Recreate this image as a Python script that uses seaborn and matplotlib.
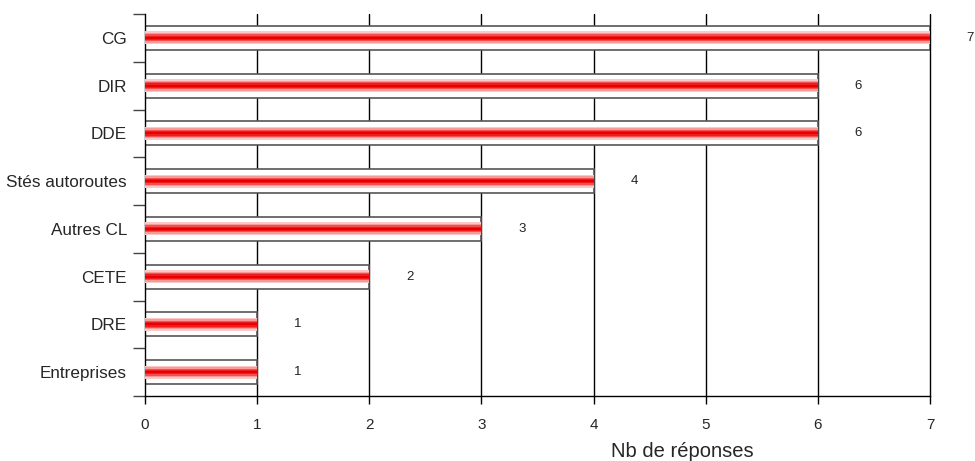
import matplotlib
matplotlib.use("Agg")
import matplotlib.pyplot as plt
import numpy as np
import pandas as pd
import seaborn as sns

categories = ["CG", "DIR", "DDE", "Stés autoroutes", "Autres CL", "CETE", "DRE", "Entreprises"]
responses = [7, 6, 6, 4, 3, 2, 1, 1]
x_ticks = [0, 1, 2, 3, 4, 5, 6, 7]

df = pd.DataFrame({"categorie": categories, "reponses": responses})

sns.set_theme(style="white")
plt.rcParams["font.family"] = ["Liberation Sans", "DejaVu Sans"]

fig = plt.figure(figsize=(9.75, 4.61), dpi=100)
ax = fig.add_axes([0.1487, 0.141, 0.8051, 0.8286])

# white bars with dark outline
sns.barplot(data=df, x="reponses", y="categorie", orient="h", color="white",
            edgecolor="#555555", linewidth=1.2, width=0.5, saturation=1, ax=ax, zorder=2)

# red gradient stripe built from stacked layers
layers = [(0.27, "#fbc8c8"), (0.21, "#f79a9a"), (0.15, "#f25050"), (0.09, "#ee1c1c"), (0.04, "#e60000")]
for h, c in layers:
    sns.barplot(data=df, x="reponses", y="categorie", orient="h", color=c,
                linewidth=0, width=h, saturation=1, ax=ax, zorder=3)

# value labels
for i, v in enumerate(responses):
    ax.text(v + 0.36, i, str(v), va="center", ha="center", fontsize=9.5, color="#222222")

ax.set_xlim(0, 7)
ax.set_ylim(len(categories) - 0.5, -0.5)
ax.set_xticks(x_ticks)
ax.set_xticklabels([str(t) for t in x_ticks], fontsize=11)
for t in x_ticks[1:]:
    ax.axvline(t, color="black", lw=1, zorder=1, clip_on=False)

ax.set_yticks(range(len(categories)))
ax.set_yticklabels(categories, fontsize=12.3)
ax.set_yticks(np.arange(-0.5, len(categories), 1), minor=True)
ax.tick_params(axis="y", which="both", left=True)
ax.tick_params(axis="y", which="major", length=0, pad=13)
ax.tick_params(axis="y", which="minor", length=9, width=1, color="#444444", direction="out")
ax.tick_params(axis="x", which="major", bottom=True, length=6, width=1, color="black",
               direction="out", pad=10)

for s in ["top", "right"]:
    ax.spines[s].set_visible(False)
for s in ["left", "bottom"]:
    ax.spines[s].set_color("black")
    ax.spines[s].set_linewidth(1)

ax.set_ylabel("")
ax.set_xlabel("Nb de réponses", fontsize=14.5)
ax.xaxis.set_label_coords(0.685, -0.12)

fig.savefig("out.png", dpi=100, facecolor="white")
